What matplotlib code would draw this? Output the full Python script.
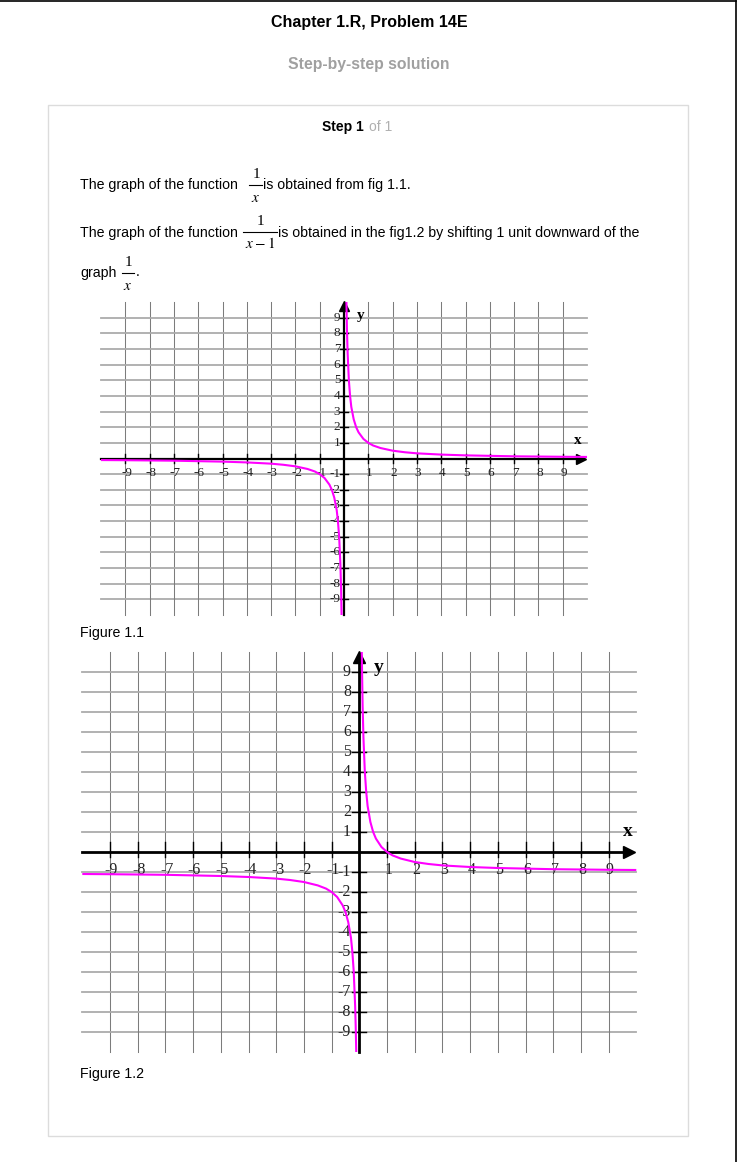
import matplotlib.pyplot as plt
from matplotlib.lines import Line2D
from matplotlib.patches import Rectangle

plt.rcParams['mathtext.fontset'] = 'stix'

# ---- data ----
# Figure 1.1 : y = 1/x
f1_left_x = [-10, -9, -8, -7, -6, -5, -4, -3, -2.5, -2, -1.5, -1.2, -1, -0.8, -0.6, -0.5, -0.4, -0.3, -0.25, -0.2, -0.15, -0.12, -0.1]
f1_left_y = [-0.1, -0.11, -0.125, -0.14, -0.17, -0.2, -0.25, -0.33, -0.4, -0.5, -0.67, -0.83, -1, -1.25, -1.67, -2, -2.5, -3.3, -4, -5, -6.7, -8.3, -10]
f1_right_x = [0.1, 0.12, 0.15, 0.2, 0.25, 0.3, 0.4, 0.5, 0.6, 0.8, 1, 1.2, 1.5, 2, 2.5, 3, 4, 5, 6, 7, 8, 9, 10]
f1_right_y = [10, 8.3, 6.7, 5, 4, 3.3, 2.5, 2, 1.67, 1.25, 1, 0.83, 0.67, 0.5, 0.4, 0.33, 0.25, 0.2, 0.17, 0.14, 0.125, 0.11, 0.1]

# Figure 1.2 : shifted one unit down
f2_left_x = [-10, -9, -8, -7, -6, -5, -4, -3, -2.5, -2, -1.5, -1.2, -1, -0.8, -0.6, -0.5, -0.4, -0.3, -0.25, -0.2, -0.15, -0.13, -0.11]
f2_left_y = [-1.1, -1.11, -1.125, -1.14, -1.17, -1.2, -1.25, -1.33, -1.4, -1.5, -1.67, -1.83, -2, -2.25, -2.67, -3, -3.5, -4.3, -5, -6, -7.7, -8.7, -10]
f2_right_x = [0.09, 0.1, 0.12, 0.15, 0.2, 0.25, 0.3, 0.4, 0.5, 0.6, 0.8, 1, 1.2, 1.5, 2, 2.5, 3, 4, 5, 6, 7, 8, 9, 10]
f2_right_y = [10, 9, 7.3, 5.7, 4, 3, 2.3, 1.5, 1, 0.67, 0.25, 0, -0.17, -0.33, -0.5, -0.6, -0.67, -0.75, -0.8, -0.83, -0.86, -0.875, -0.89, -0.9]

ticks = [-9, -8, -7, -6, -5, -4, -3, -2, -1, 1, 2, 3, 4, 5, 6, 7, 8, 9]
tick_labels = [str(t) for t in ticks]

title = "Chapter 1.R, Problem 14E"
subtitle = "Step-by-step solution"
line1a = "The graph of the function"
line1b = "is obtained from fig 1.1."
line2b = "is obtained in the fig1.2 by shifting 1 unit downward of the"

W, H = 738, 1162
fig = plt.figure(figsize=(W / 100, H / 100), dpi=100)

def fx(x):
    return x / W

def fy(y):
    return 1 - y / H

sans = 'Liberation Sans'
serif = 'Liberation Serif'

# page frame
fig.add_artist(Line2D([0, fx(736)], [fy(0.8), fy(0.8)], color='black', lw=1.2))
fig.add_artist(Line2D([fx(736), fx(736)], [fy(0.8), 0], color='black', lw=1.2))
fig.add_artist(Rectangle((fx(48), fy(1136)), fx(688) - fx(48), fy(105) - fy(1136),
                         fill=False, ec='#dcdcdc', lw=1))

# header text
fig.text(fx(369), fy(27), title, ha='center', va='baseline', family=sans,
         fontsize=11.5, fontweight='bold')
fig.text(fx(369), fy(69), subtitle, ha='center', va='baseline', family=sans,
         fontsize=11.3, fontweight='bold', color='#a0a0a0')
fig.text(fx(322), fy(131), "Step 1", ha='left', va='baseline', family=sans,
         fontsize=10, fontweight='bold')
fig.text(fx(369), fy(131), "of 1", ha='left', va='baseline', family=sans,
         fontsize=10, color='#b0b0b0')

# body text
fs = 10.2
fig.text(fx(80), fy(188.5), line1a, ha='left', va='baseline', family=sans, fontsize=fs)
fig.text(fx(263), fy(188.5), line1b, ha='left', va='baseline', family=sans, fontsize=fs)
fig.text(fx(80), fy(236.5), line1a, ha='left', va='baseline', family=sans, fontsize=fs)
fig.text(fx(278), fy(236.5), line2b, ha='left', va='baseline', family=sans, fontsize=fs)
fig.text(fx(80), fy(276.5), "graph", ha='left', va='baseline', family=sans, fontsize=fs)
fig.text(fx(136), fy(276.5), ".", ha='left', va='baseline', family=sans, fontsize=fs)


def fraction(cx, cy, x0, x1, num, den):
    fig.text(fx(cx), fy(cy - 11), num, ha='center', va='center', family=serif, fontsize=11)
    fig.add_artist(Line2D([fx(x0), fx(x1)], [fy(cy), fy(cy)], color='black', lw=0.8))
    fig.text(fx(cx), fy(cy + 12), den, ha='center', va='center', fontsize=11)


fraction(256, 185, 249, 262, "1", "$x$")
fraction(260, 232, 243, 277, "1", "$x-1$")
fraction(128, 273, 122, 134, "1", "$x$")

fig.text(fx(80), fy(637), "Figure 1.1", ha='left', va='baseline', family=sans, fontsize=fs)
fig.text(fx(80), fy(1078), "Figure 1.2", ha='left', va='baseline', family=sans, fontsize=fs)


def make_axes(xl, xr, yt, yb, pad=0.6):
    sx = (xr - xl) / 20.0
    sy = (yb - yt) / 20.0
    left = xl - pad * sx
    right = xr + pad * sx
    top = yt - pad * sy
    bottom = yb + pad * sy
    ax = fig.add_axes([fx(left), fy(bottom), (right - left) / W, (bottom - top) / H])
    ax.set_xlim(-10 - pad, 10 + pad)
    ax.set_ylim(-10 - pad, 10 + pad)
    ax.axis('off')
    return ax


def draw_graph(ax, lx, ly, rx, ry, lab_fs, let_fs, axis_lw, tick_up, tick_dn,
               ytick_half, xlab_dy, ylab_dx, arrow_ms, ypos, xpos):
    for t in ticks:
        ax.plot([t, t], [-10, 10], color='#7c7c7c', lw=0.75, zorder=1)
        ax.plot([-10, 10], [t, t], color='#ababab', lw=1.3, zorder=1)
    ax.plot([-10, 9.7], [0, 0], color='black', lw=axis_lw, zorder=3)
    ax.plot([0, 0], [-10, 9.7], color='black', lw=axis_lw, zorder=3)
    ax.plot([9.75], [0], marker='>', color='black', ms=arrow_ms, zorder=3)
    ax.plot([0], [9.75], marker='^', color='black', ms=arrow_ms, zorder=3)
    for t, s in zip(ticks, tick_labels):
        ax.plot([t, t], [-tick_dn, tick_up], color='black', lw=1.0, zorder=3)
        ax.plot([-ytick_half, ytick_half], [t, t], color='black', lw=1.0, zorder=3)
        ax.text(t + 0.05, -xlab_dy, s, ha='center', va='center', family=serif,
                fontsize=lab_fs, color='#222222', zorder=4)
        ax.text(-ylab_dx, t, s, ha='right', va='center', family=serif,
                fontsize=lab_fs, color='#222222', zorder=4)
    ax.plot(lx, ly, color='#ff00ff', lw=1.5, zorder=5, solid_capstyle='butt')
    ax.plot(rx, ry, color='#ff00ff', lw=1.5, zorder=5, solid_capstyle='butt')
    ax.text(ypos[0], ypos[1], 'y', ha='center', va='center', family=serif,
            fontsize=let_fs, fontweight='bold')
    ax.text(xpos[0], xpos[1], 'x', ha='center', va='center', family=serif,
            fontsize=let_fs, fontweight='bold')


ax1 = make_axes(101, 587, 302, 615)
draw_graph(ax1, f1_left_x, f1_left_y, f1_right_x, f1_right_y, lab_fs=9.5, let_fs=11,
           axis_lw=1.6, tick_up=0.3, tick_dn=0.3, ytick_half=0.15, xlab_dy=0.95,
           ylab_dx=0.15, arrow_ms=7, ypos=(0.7, 9.15), xpos=(9.63, 1.15))

ax2 = make_axes(82.3, 636.3, 652, 1052)
draw_graph(ax2, f2_left_x, f2_left_y, f2_right_x, f2_right_y, lab_fs=11.5, let_fs=14,
           axis_lw=2.0, tick_up=0.5, tick_dn=0.25, ytick_half=0.25, xlab_dy=0.9,
           ylab_dx=0.3, arrow_ms=9, ypos=(0.71, 9.2), xpos=(9.7, 1.0))

fig.savefig('out.png', dpi=100)
